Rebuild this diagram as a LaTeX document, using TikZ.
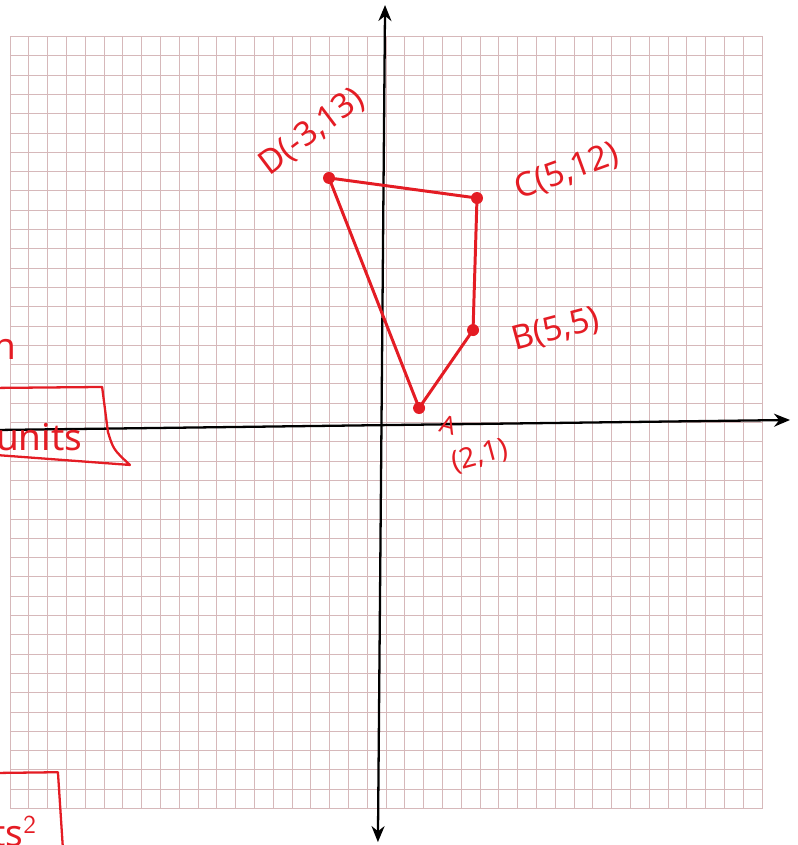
\documentclass[tikz,border=0pt]{standalone}
\usepackage{fontspec}
\setmainfont{Noto Sans}
\usepackage{xcolor}
\usetikzlibrary{arrows.meta, positioning, calc}

\definecolor{penred}{RGB}{228,28,36}
\definecolor{gridpink}{RGB}{214,184,186}

\begin{document}
\begin{tikzpicture}[
    x=0.376cm, y=0.386cm,
    every node/.style={inner sep=1pt},
    gridline/.style={gridpink, line width=0.55pt, xstep=1, ystep=1},
    axisline/.style={line width=1.3pt, -{Stealth[length=3.2mm, width=2.6mm]}},
    bothaxis/.style={line width=1.3pt, {Stealth[length=3.2mm, width=2.6mm]}-{Stealth[length=3.2mm, width=2.6mm]}},
    quadline/.style={penred, line width=1.7pt, line join=round},
    vertex/.style={circle, fill=penred, inner sep=0pt, minimum size=2.4mm},
    ptlbl/.style={penred, font=\fontsize{19}{22}\selectfont},
    notelbl/.style={penred, font=\fontsize{21}{24}\selectfont},
    scrawl/.style={penred, line width=1.3pt, line join=round},
]
\useasboundingbox (-7.72cm,-8.45cm) rectangle (8.22cm,8.45cm);

% --------- Graph paper ----------
\draw[gridline] (-20,-20) grid (20,20);
\draw[gridline] (-20,-20) rectangle (20,20);

% --------- Axes ----------
\coordinate (xl) at (-20.8,-0.39);
\coordinate (xr) at (21.49,0.13);
\coordinate (yb) at (-0.43,-21.74);
\coordinate (yt) at (-0.05,21.63);
\draw[axisline] (xl) -- (xr);
\draw[bothaxis] (yb) -- (yt);

% --------- Quadrilateral ABCD ----------
\node[vertex] (A) at (1.76,0.75)  {};
\node[vertex] (B) at (4.63,4.79)  {};
\node[vertex] (C) at (4.84,11.63) {};
\node[vertex] (D) at (-3.03,12.67) {};
\draw[quadline] (A.center) -- (B.center) -- (C.center) -- (D.center) -- cycle;

% --------- Vertex labels ----------
\node[ptlbl, rotate=37] (Dlbl) at (-3.94,15.05) {D(-3,13)};
\node[ptlbl, rotate=20] (Clbl) at (9.63,12.98)  {C(5,12)};
\node[ptlbl, rotate=15] (Blbl) at (9.04,4.79)   {B(5,5)};
\node[penred, font=\fontsize{14}{16}\selectfont, rotate=-15] (Albl) at (3.3,-0.15) {A};
\node[penred, font=\fontsize{16}{18}\selectfont, rotate=15] (Acoord) at (5.0,-1.75) {(2,1)};

% --------- Cut-off notes at left edge ----------
\node[notelbl, anchor=west] (nfrag) at (-21.0,3.8) {n};
\node[notelbl, anchor=west] (unitslbl) at (-20.85,-0.75) {units};
\draw[scrawl] (-20.8,1.79) -- (-15.1,1.84) -- (-14.79,-0.49)
      .. controls (-14.5,-1.4) .. (-13.62,-2.2) -- (-20.8,-1.68);
\node[notelbl, anchor=west] (areaunits) at (-21.05,-21.2) {ts$^{\mathsf{2}}$};
\draw[scrawl] (-20.8,-18.16) -- (-17.45,-18.12) -- (-17.18,-22.15);

\end{tikzpicture}
\end{document}
